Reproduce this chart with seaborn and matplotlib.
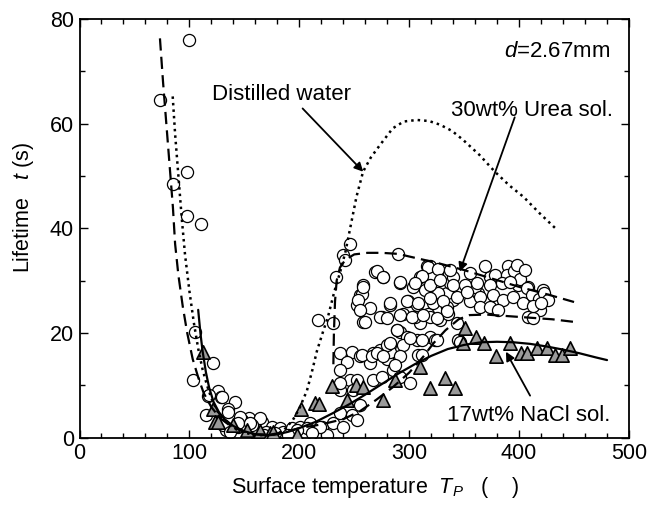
import numpy as np
import pandas as pd
import matplotlib
matplotlib.use("Agg")
import matplotlib.pyplot as plt
import seaborn as sns

# ---------------- data ----------------
circle_x = [100, 73, 97.5, 85.4, 97.5, 110.6, 105, 103, 121.2, 117.2, 125.7, 128.7, 141.5, 135.4, 114.8,
            154.2, 147.6, 133, 161, 118, 135.4, 146, 165.8, 130.8, 144.5, 152, 137, 159.7, 129.4, 164.2,
            144.5, 156.7, 174.9, 182.4, 185.4, 193, 200.6, 209.7, 220.4, 225, 231, 237, 247.7, 255.2,
            206.7, 197.6, 155.1, 240, 218.8, 252.2, 170, 178, 190, 168, 212,
            217.3, 231, 233.4, 240, 246, 241.6,
            290, 268.9, 276, 291.6, 258.2, 255.2, 252.2, 264.3, 258.2, 275, 282.5, 291.6, 299.2, 306.8,
            299.2, 309.8, 306.8, 317.4, 328, 319, 323.5, 256.8, 253.7, 255.2, 273.4, 259.8, 288.6, 297.7,
            294.6, 305.3, 319, 317.4, 309.8, 325, 316, 270.4, 258.2,
            237, 247.7, 243, 255.2, 267.3, 273.4, 264.3, 279.5, 282.5, 285.5, 237, 246, 252.2, 267.3,
            275, 291.6, 300.7, 249, 237, 308.3, 294.6, 256.8, 265.9, 282.5, 291.6, 270.4, 279.5, 237,
            276.4, 287.1, 311.4,
            343.2, 344.6, 373.5, 376.5, 370.5, 355.3, 362.9, 359.9, 340, 334.1, 337.1, 340.1, 322, 319,
            309.8, 303.7, 314.4, 326.5, 322, 334.1, 335.6,
            317.4, 311.4, 326.5, 337.1, 355.3, 369, 378, 390.2, 388.7, 276.4, 291.6, 305.3, 319, 328,
            340.1, 351, 361.4, 373.5, 384.2, 399.3, 408.4, 422, 282.5, 297.7, 308.3, 319, 331, 343.2,
            352.3, 364.4, 376.5, 385.6, 394.7, 403.8, 416, 419, 408.4, 413, 279.5, 291.6, 302.3, 312.8,
            325, 334.1, 364.4, 373.5, 381.1, 288.6, 300.7, 311.4, 325, 282.5, 346.2,
            395, 401, 407, 412, 418, 423, 426, 413, 420, 398, 405, 392]
circle_y = [75.9, 64.5, 50.7, 48.5, 42.4, 40.8, 20.2, 11, 14.2, 7.9, 8.9, 7.8, 6.7, 5.4, 4.3,
            3.7, 3.3, 1.4, 2.7, 8.1, 4.9, 4, 3.0, 2.4, 2.1, 1.8, 1.1, 0.8, 7.8, 3.7,
            2.7, 2.4, 2.1, 1.8, 1.1, 1.8, 2.1, 2.7, 2.1, 0.5, 2.7, 4.6, 4.3, 6.2,
            1.8, 1.4, 2.7, 2.1, 2.1, 3.3, 1.0, 0.8, 0.5, 0.5, 0.8,
            22.5, 21.8, 30.7, 34.9, 37, 33.9,
            35.1, 31.7, 30.7, 29.6, 29.2, 27.2, 25.3, 24.7, 22.1, 23.1, 25.3, 20.2, 26, 25.3,
            19, 21.8, 18.6, 23.7, 22.5, 19.3, 18.6, 27.4, 26.3, 24.4, 23, 22.1, 20.6, 19.3,
            23.7, 23.1, 23.1, 30.1, 29.5, 31.4, 32.7, 31.9, 28.8,
            16.1, 16.4, 14.5, 15.5, 16.1, 16.7, 14.2, 15.1, 17.7, 12.9, 12.9, 11, 11, 11,
            11.6, 11.6, 10.4, 9.1, 9.1, 15.8, 17.7, 15.8, 15.5, 16.4, 15.5, 16.1, 17.7, 10.4,
            15.5, 13.9, 15.8,
            21.8, 18.6, 30.7, 26.3, 25.7, 26, 27.6, 28.8, 26.3, 27.6, 29.5, 30.7, 30.7, 32.7,
            30.7, 28.8, 28.2, 27.6, 25.7, 25, 23.7,
            32.5, 30.9, 32.2, 32, 31.4, 32.7, 31.1, 32.7, 31.1, 30.7, 29.8, 29.5, 29.2, 30.1,
            29.2, 29.2, 29.5, 29.2, 29.5, 29.2, 28.8, 28.2, 25.7, 26, 25.7, 26.6, 26, 26.9,
            27.9, 26.9, 27.2, 26.3, 26.9, 25.7, 26.3, 24.4, 23.1, 22.8, 22.8, 23.4, 23.1, 23.4,
            22.8, 24.1, 25, 25, 24.4, 20.6, 19, 18.6, 18.6, 18, 18.3,
            31.9, 30.3, 28.6, 27.3, 26.5, 27.6, 26.3, 25.2, 25.8, 33, 32, 29.8]

tri_x = [112.7, 121.7, 123.3, 126, 140, 152, 164, 173, 176, 197.6, 202, 214, 218, 230, 243, 252, 258,
         276, 287, 310, 319, 333, 342, 351, 349, 361, 368, 379, 392, 402, 407, 416, 425, 433, 439, 446]
tri_y = [16.4, 5.4, 3.0, 3.0, 2.4, 1.4, 1.2, 0.8, 1.1, 0.5, 5.5, 6.6, 6.4, 9.8, 7.2, 10, 9.6,
         7.2, 11, 13.5, 9.4, 11.3, 9.4, 20.9, 18, 19.3, 18, 15.5, 18, 16.1, 16.2, 17.2, 17.2, 15.8, 15.8, 17.2]

water_x = [84.8, 87, 90, 93, 96, 100, 104, 108, 112, 116, 120, 125, 130, 140, 150, 160, 170, 180, 186,
           194, 200, 207, 212, 216, 222, 226, 232, 237, 242, 246, 252, 258, 265, 273, 285, 295, 307, 318,
           328, 339, 349, 364, 378, 391, 404, 418, 433]
water_y = [65.2, 58, 50, 42, 35, 28, 22, 17, 13, 10, 7.5, 5.2, 3.6, 1.8, 0.9, 0.5, 0.4, 0.7, 1.4,
           3.3, 5.5, 9, 13, 16.5, 20.5, 23, 28, 31.5, 35.5, 39.7, 46, 50.8, 53.5, 55.8, 59.1, 60.4, 60.7, 60.5,
           59.8, 58.6, 56.9, 54, 50.8, 48.2, 46, 43, 40]

urea_low_x = [73.2, 76, 79, 82, 85, 87, 90, 94, 98, 103, 108, 113, 120, 128, 138, 150, 162, 175, 188,
              200, 220, 240, 255, 270, 285, 300, 313, 322, 333, 345, 355, 370, 390, 410, 430, 450]
urea_low_y = [76.3, 68, 60, 52, 44, 37, 31, 25, 20, 15, 11.5, 8.5, 5.8, 3.7, 2.1, 1.1, 0.6, 0.6, 1.1,
              1.8, 2.5, 3.5, 5, 7.2, 9.6, 12.4, 15.5, 18, 20.5, 22.6, 23.4, 23.5, 23.2, 22.9, 22.6, 22.1]

urea_high_x = [231, 231.5, 232.5, 234, 237, 242, 250, 262, 275, 290, 300, 325, 350, 375, 400, 425, 450]
urea_high_y = [14, 20, 26, 30, 32.5, 34, 35, 35.3, 35.3, 35.1, 34.6, 33.4, 32.0, 30.4, 28.8, 27.4, 25.9]

nacl_x = [108, 110, 112, 115, 118, 122, 127, 133, 140, 150, 160, 170, 180, 190, 200, 215, 230, 245,
          260, 275, 290, 305, 320, 335, 350, 365, 380, 395, 410, 425, 440, 455, 470, 480]
nacl_y = [24.4, 20, 16.5, 12.5, 9.5, 6.8, 4.8, 3.3, 2.2, 1.2, 0.6, 0.4, 0.6, 1.1, 1.8, 3, 4.6, 6.3,
          8.2, 10.2, 12.2, 14, 15.6, 16.9, 17.7, 18.2, 18.3, 18.2, 17.9, 17.4, 16.8, 16.1, 15.3, 14.8]

x_ticks = [0, 100, 200, 300, 400, 500]
y_ticks = [0, 20, 40, 60, 80]

# ---------------- style ----------------
sns.set_theme(style="ticks")
plt.rcParams['font.family'] = ['Liberation Sans', 'DejaVu Sans']
plt.rcParams['mathtext.fontset'] = 'custom'
plt.rcParams['mathtext.rm'] = 'Liberation Sans'
plt.rcParams['mathtext.it'] = 'Liberation Sans:italic'
plt.rcParams['text.color'] = 'black'
plt.rcParams['axes.labelcolor'] = 'black'

fig = plt.figure(figsize=(6.63, 5.08), dpi=100)
ax = fig.add_axes([79.5 / 663, 1 - 437.5 / 508, (629 - 79.5) / 663, (437.5 - 19) / 508])

circ = pd.DataFrame({"T": circle_x, "t": circle_y})
tri = pd.DataFrame({"T": tri_x, "t": tri_y})

sns.scatterplot(data=circ, x="T", y="t", ax=ax, marker="o", s=76, color="white",
                edgecolor="black", linewidth=0.9, zorder=2, legend=False)
sns.scatterplot(data=tri, x="T", y="t", ax=ax, marker="^", s=92, color="#9a9a9a",
                edgecolor="black", linewidth=1.2, zorder=3, legend=False)

sns.lineplot(x=water_x, y=water_y, ax=ax, sort=False, estimator=None, color="black",
             linewidth=1.8, linestyle=(0, (1.0, 1.6)), zorder=4)
sns.lineplot(x=urea_low_x, y=urea_low_y, ax=ax, sort=False, estimator=None, color="black",
             linewidth=1.6, linestyle=(0, (5.5, 2.8)), zorder=4)
sns.lineplot(x=urea_high_x, y=urea_high_y, ax=ax, sort=False, estimator=None, color="black",
             linewidth=1.6, linestyle=(0, (5.5, 2.8)), zorder=4)
sns.lineplot(x=nacl_x, y=nacl_y, ax=ax, sort=False, estimator=None, color="black",
             linewidth=1.6, linestyle="-", zorder=4)

ax.set_xlim(0, 500)
ax.set_ylim(0, 80)
ax.set_xticks(x_ticks)
ax.set_yticks(y_ticks)
ax.set_xticks(np.arange(0, 501, 20), minor=True)
ax.set_yticks(np.arange(0, 81, 10), minor=True)
ax.tick_params(which="both", direction="in", top=True, right=True, colors="black",
               labelsize=15.5, width=1.0)
ax.tick_params(which="major", length=6, pad=4)
ax.tick_params(which="minor", length=3.5)
for s in ax.spines.values():
    s.set_linewidth(1.3)
    s.set_color("black")
ax.set_xlabel("")
ax.set_ylabel("")

fs = 16
arrow = dict(arrowstyle="-|>", color="black", lw=1.3, mutation_scale=13, shrinkA=0, shrinkB=0)
ax.text(121, 65.5, "Distilled water", fontsize=fs, ha="left", va="center", zorder=6)
ax.annotate("", xy=(258.2, 50.8), xytext=(203, 62.9), arrowprops=arrow, zorder=6)
ax.text(338, 62.6, "30wt% Urea sol.", fontsize=fs, ha="left", va="center", zorder=6)
ax.annotate("", xy=(346, 31.7), xytext=(396, 61.2), arrowprops=arrow, zorder=6)
ax.text(334, 4.2, "17wt% NaCl sol.", fontsize=fs, ha="left", va="center", zorder=6)
ax.annotate("", xy=(388, 16.4), xytext=(410, 8.0), arrowprops=arrow, zorder=6)
ax.text(483, 73.8, "$d$=2.67mm", fontsize=fs, ha="right", va="center", zorder=6)

fig.text(375 / 663, 1 - 487 / 508, "Surface temperature  $T_P$   (    )", fontsize=15.5,
         ha="center", va="center")
fig.text(23 / 663, 1 - 208 / 508, "Lifetime   $t$ (s)", fontsize=15.5, rotation=90,
         ha="center", va="center")

fig.savefig("out.png", dpi=100)
